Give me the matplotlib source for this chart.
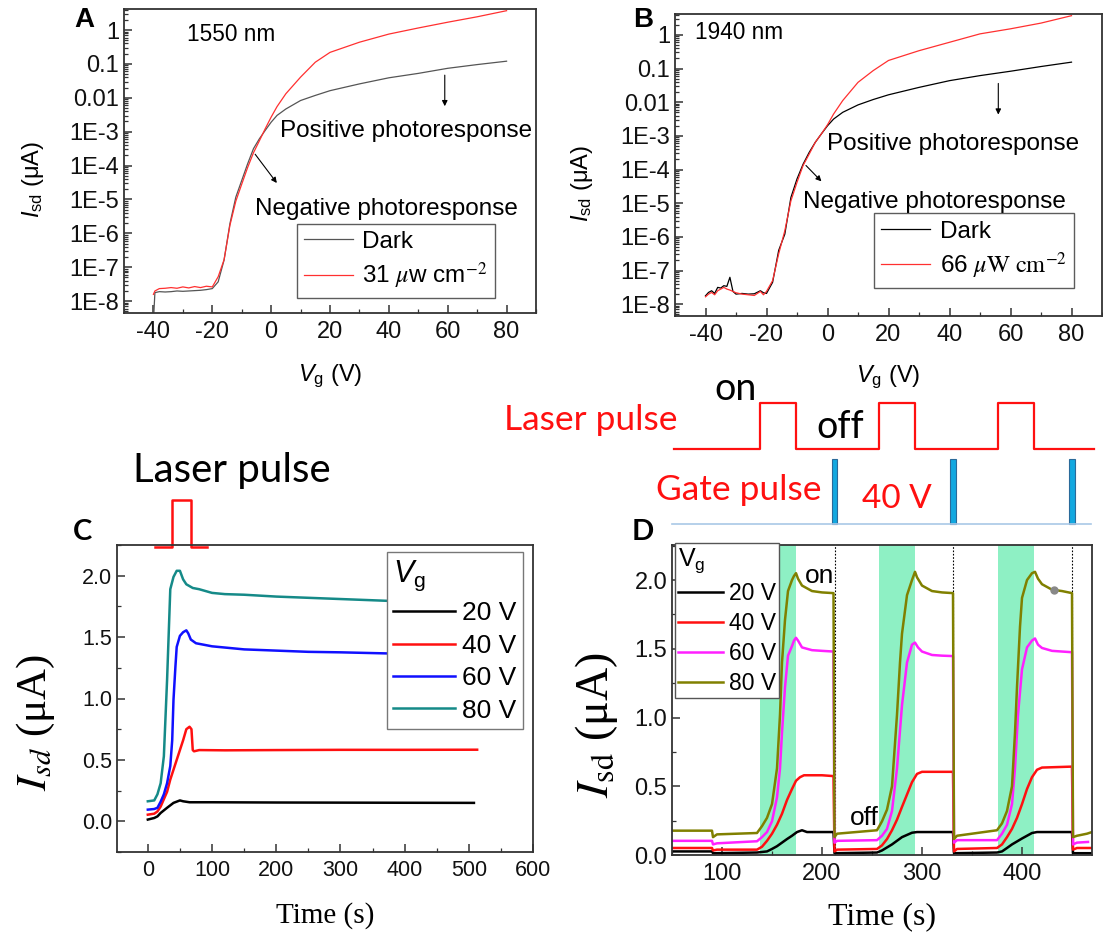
import numpy as np
import matplotlib
matplotlib.use('Agg')
import matplotlib.pyplot as plt
from matplotlib.ticker import FixedLocator, MultipleLocator, LogLocator, NullFormatter, FormatStrFormatter

plt.rcParams['font.family'] = ['Liberation Sans', 'DejaVu Sans']
plt.rcParams['axes.unicode_minus'] = False
plt.rcParams['mathtext.fontset'] = 'custom'
plt.rcParams['mathtext.rm'] = 'Liberation Sans'
plt.rcParams['mathtext.it'] = 'Liberation Sans:italic'
plt.rcParams['mathtext.bf'] = 'Liberation Sans:bold'

# ---- panel A : transfer curves at 1550 nm (log10 of Isd in uA)
a_vg = [-40, -39.5, -38, -36, -34, -32, -30, -28, -26, -24, -22, -20, -18, -16, -14, -12, -10,
        -8, -6, -4, -2, 0, 2, 5, 10, 15, 20, 30, 40, 50, 60, 70, 80]
a_dark = [-8.6, -7.75, -7.72, -7.73, -7.72, -7.70, -7.71, -7.70, -7.69, -7.68, -7.66, -7.63, -7.43,
          -6.79, -5.71, -4.93, -4.44, -3.95, -3.50, -3.21, -2.96, -2.72, -2.52, -2.33, -2.08, -1.93,
          -1.79, -1.59, -1.41, -1.28, -1.13, -1.02, -0.92]
a_light = [-7.80, -7.70, -7.63, -7.62, -7.60, -7.62, -7.58, -7.61, -7.57, -7.60, -7.56, -7.58, -7.28,
           -6.78, -5.76, -5.05, -4.55, -4.06, -3.62, -3.27, -2.91, -2.57, -2.26, -1.88, -1.39, -0.95,
           -0.66, -0.36, -0.12, 0.06, 0.23, 0.39, 0.57]

# ---- panel B : transfer curves at 1940 nm
b_vg = [-40, -39, -38, -37, -36, -35, -34, -33, -32, -31, -30, -28, -26, -24, -22, -21, -20, -18,
        -16, -14, -12, -10, -8, -6, -4, -2, 0, 2, 5, 10, 15, 20, 30, 40, 50, 60, 70, 80]
b_dark = [-7.75, -7.65, -7.60, -7.68, -7.50, -7.52, -7.45, -7.47, -7.20, -7.62, -7.70, -7.68, -7.70,
          -7.69, -7.60, -7.66, -7.68, -7.35, -6.40, -5.92, -4.83, -4.28, -3.84, -3.49, -3.19, -2.94,
          -2.70, -2.50, -2.30, -2.08, -1.92, -1.78, -1.56, -1.36, -1.21, -1.08, -0.94, -0.81]
b_light = [-7.78, -7.70, -7.65, -7.72, -7.60, -7.55, -7.50, -7.55, -7.58, -7.62, -7.66, -7.70, -7.72,
           -7.74, -7.62, -7.72, -7.62, -7.30, -6.50, -5.82, -4.93, -4.38, -3.88, -3.54, -3.19, -2.94,
           -2.67, -2.35, -1.95, -1.41, -1.06, -0.76, -0.47, -0.22, 0.03, 0.18, 0.35, 0.57]

log_ticks = [-8, -7, -6, -5, -4, -3, -2, -1, 0]
log_labels = ['1E-8', '1E-7', '1E-6', '1E-5', '1E-4', '1E-3', '0.01', '0.1', '1']

# ---- panel C : single laser pulse, different Vg
c_t80 = [0, 10, 15, 20, 25, 30, 35, 40, 45, 50, 55, 60, 70, 80, 100, 120, 150, 200, 250, 300, 350, 400, 450, 505]
c_i80 = [0.163, 0.17, 0.22, 0.31, 0.53, 1.15, 1.89, 1.99, 2.04, 2.04, 1.97, 1.93, 1.90, 1.89, 1.86, 1.85,
         1.845, 1.83, 1.82, 1.81, 1.80, 1.79, 1.785, 1.78]
c_t60 = [0, 10, 15, 20, 25, 30, 35, 38, 40, 43, 45, 50, 55, 60, 63, 67, 75, 100, 150, 200, 250, 300, 390, 450, 505]
c_i60 = [0.095, 0.10, 0.11, 0.16, 0.22, 0.31, 0.45, 0.66, 0.99, 1.26, 1.42, 1.51, 1.54, 1.555, 1.53, 1.48,
         1.45, 1.425, 1.40, 1.39, 1.38, 1.376, 1.365, 1.36, 1.355]
c_t40 = [0, 10, 15, 20, 25, 30, 35, 40, 45, 50, 55, 60, 65, 68, 70, 72, 80, 120, 200, 300, 400, 513]
c_i40 = [0.054, 0.062, 0.08, 0.12, 0.18, 0.24, 0.34, 0.42, 0.50, 0.58, 0.66, 0.75, 0.77, 0.75, 0.58, 0.57,
         0.58, 0.578, 0.58, 0.582, 0.582, 0.583]
c_t20 = [0, 10, 15, 20, 30, 40, 50, 55, 65, 100, 200, 300, 400, 508]
c_i20 = [0.014, 0.027, 0.04, 0.068, 0.11, 0.15, 0.17, 0.163, 0.155, 0.155, 0.153, 0.152, 0.151, 0.15]
c_pulse_t = [11, 37, 37, 67, 67, 92]
c_pulse_lvl = [0, 0, 1, 1, 0, 0]

# ---- panel D : repeated laser + gate pulses
d_t80 = [50, 90, 91, 95, 135, 140, 145, 150, 155, 158, 160, 163, 166, 170, 172, 174, 176, 180, 190, 200,
         211.5, 212.5, 215, 255, 260, 265, 270, 275, 278, 280, 285, 290, 293, 295, 300, 310, 320, 331,
         332, 335, 375, 380, 385, 390, 393, 395, 398, 400, 405, 410, 413, 416, 420, 430, 440, 450,
         451, 455, 465, 470]
d_i80 = [0.177, 0.177, 0.13, 0.15, 0.16, 0.21, 0.27, 0.37, 0.63, 1.02, 1.40, 1.71, 1.92, 2.00, 2.03, 2.05,
         2.01, 1.96, 1.92, 1.91, 1.905, 0.13, 0.155, 0.18, 0.245, 0.33, 0.50, 1.02, 1.40, 1.61, 1.89,
         2.00, 2.06, 2.02, 1.96, 1.92, 1.91, 1.905, 0.116, 0.14, 0.18, 0.23, 0.32, 0.50, 0.89, 1.22,
         1.66, 1.87, 2.00, 2.05, 2.06, 2.01, 1.97, 1.93, 1.92, 1.905, 0.13, 0.14, 0.155, 0.167]
d_t60 = [50, 90, 91, 95, 135, 140, 145, 150, 155, 158, 160, 163, 166, 170, 172, 174, 176, 180, 190, 200,
         211.5, 212.5, 215, 255, 260, 265, 270, 275, 280, 285, 290, 293, 296, 300, 310, 320, 331,
         332, 335, 375, 380, 385, 390, 393, 396, 400, 405, 410, 413, 416, 420, 430, 440, 450,
         451, 455, 466]
d_i60 = [0.103, 0.103, 0.077, 0.085, 0.10, 0.13, 0.167, 0.245, 0.42, 0.63, 0.89, 1.22, 1.45, 1.52, 1.56,
         1.58, 1.56, 1.51, 1.49, 1.485, 1.48, 0.09, 0.103, 0.108, 0.14, 0.19, 0.32, 0.63, 1.09, 1.40,
         1.53, 1.545, 1.51, 1.48, 1.455, 1.45, 1.447, 0.09, 0.108, 0.108, 0.155, 0.22, 0.37, 0.63,
         1.02, 1.35, 1.51, 1.56, 1.575, 1.53, 1.506, 1.485, 1.48, 1.475, 0.077, 0.09, 0.095]
d_t40 = [50, 90, 91, 95, 135, 140, 145, 150, 155, 160, 165, 170, 174, 178, 182, 200, 211.5, 212.5, 215,
         255, 260, 265, 270, 275, 280, 285, 290, 295, 300, 331, 332, 335, 375, 380, 385, 390, 395,
         400, 405, 410, 415, 420, 450, 451, 455, 470]
d_i40 = [0.051, 0.051, 0.033, 0.039, 0.039, 0.06, 0.103, 0.155, 0.22, 0.30, 0.40, 0.48, 0.54, 0.566,
         0.58, 0.58, 0.574, 0.026, 0.039, 0.044, 0.07, 0.116, 0.18, 0.257, 0.35, 0.44, 0.53, 0.59,
         0.605, 0.605, 0.026, 0.044, 0.051, 0.077, 0.13, 0.19, 0.27, 0.37, 0.48, 0.566, 0.62, 0.636,
         0.643, 0.039, 0.051, 0.051]
d_t20 = [50, 90, 91, 135, 145, 150, 155, 160, 165, 170, 175, 180, 185, 211.5, 212.5, 255, 260, 270,
         280, 290, 295, 331, 332, 375, 380, 385, 390, 400, 410, 415, 450, 451, 470]
d_i20 = [0.026, 0.026, 0.013, 0.018, 0.026, 0.044, 0.064, 0.09, 0.116, 0.14, 0.167, 0.18, 0.167, 0.167,
         0.013, 0.018, 0.033, 0.077, 0.13, 0.162, 0.167, 0.167, 0.013, 0.018, 0.026, 0.051, 0.077,
         0.12, 0.16, 0.167, 0.167, 0.013, 0.013]
d_light_on = [(138, 174), (257, 293), (376, 412)]
d_gate_t = [212.7, 331.2, 450]
d_marker = (432, 1.925)

W, H = 1103, 933
fig = plt.figure(figsize=(W / 100, H / 100), dpi=100)


def box(x0, y0, x1, y1):
    return [x0 / W, 1 - y1 / H, (x1 - x0) / W, (y1 - y0) / H]


def ftext(x, y, s, **kw):
    fig.text(x / W, 1 - y / H, s, **kw)


def style(ax, size):
    for sp in ax.spines.values():
        sp.set_color('#333333')
        sp.set_linewidth(1.3)
    ax.tick_params(which='both', direction='in', top=False, right=False, labelsize=size,
                   colors='#333333', labelcolor='#111111')
    ax.tick_params(which='major', length=6, width=1.1)
    ax.tick_params(which='minor', length=3, width=0.9)


def transfer(ax, vg, dark, light, lab, pos_txt, neg_txt, pos_arrow, neg_arrow, light_lbl, leg_anchor,
             dark_color, ylab_x, xlab_y):
    ax.plot(vg, 10 ** np.array(dark), color=dark_color, lw=0.9, label='Dark')
    ax.plot(vg, 10 ** np.array(light), color='#ff3030', lw=0.9, label=light_lbl)
    ax.set_yscale('log')
    ax.set_xlim(-50, 90)
    ax.set_ylim(10 ** -8.35, 10 ** 0.62)
    ax.yaxis.set_major_locator(FixedLocator([10.0 ** k for k in log_ticks]))
    ax.set_yticklabels(log_labels)
    ax.yaxis.set_minor_locator(LogLocator(base=10, subs=np.arange(2, 10), numticks=100))
    ax.yaxis.set_minor_formatter(NullFormatter())
    ax.xaxis.set_major_locator(MultipleLocator(20))
    ax.xaxis.set_minor_locator(MultipleLocator(10))
    style(ax, 17)
    ax.tick_params(axis='x', pad=6)
    ax.set_xlabel(r'$V_{\rm g}$ (V)', fontsize=17)
    ax.xaxis.set_label_coords(0.5, xlab_y)
    ax.set_ylabel(r'$I_{\rm sd}$ ($\rm\mu$A)', fontsize=17)
    ax.yaxis.set_label_coords(ylab_x, 0.44)
    ax.text(lab[0], 10 ** lab[1], lab[2], fontsize=16.3, va='center')
    ax.text(pos_txt[0], 10 ** pos_txt[1], 'Positive photoresponse', fontsize=17.5, va='center')
    ax.text(neg_txt[0], 10 ** neg_txt[1], 'Negative photoresponse', fontsize=17.5, va='center')
    ax.annotate('', xy=(pos_arrow[0], 10 ** pos_arrow[3]), xytext=(pos_arrow[0], 10 ** pos_arrow[1]),
                arrowprops=dict(arrowstyle='-|>', color='black', lw=0.8, mutation_scale=8))
    ax.annotate('', xy=(neg_arrow[2], 10 ** neg_arrow[3]), xytext=(neg_arrow[0], 10 ** neg_arrow[1]),
                arrowprops=dict(arrowstyle='-|>', color='black', lw=0.8, mutation_scale=8))
    leg = ax.legend(loc='lower right', bbox_to_anchor=leg_anchor, borderaxespad=0, fancybox=False,
                    edgecolor='#333333', prop=dict(size=17.5, math_fontfamily='stix'), handlelength=2.0,
                    handletextpad=0.4, borderpad=0.3, labelspacing=0.3)
    leg.get_frame().set_linewidth(1.0)


# ---------------- A
axA = fig.add_axes(box(124, 9, 536, 313))
transfer(axA, a_vg, a_dark, a_light, (-28.6, -0.12, '1550 nm'), (3, -2.98), (-5.5, -5.27),
         (59, -1.25, 59, -2.33), (-6, -3.6, 2.5, -4.58), r'31 $\mu$w cm$^{-2}$', (0.90, 0.049),
         '#555555', -0.19, -0.164)
ftext(74, 27, 'A', fontsize=20, fontweight='bold', va='baseline')

# ---------------- B
axB = fig.add_axes(box(675, 14, 1102, 316))
transfer(axB, b_vg, b_dark, b_light, (-43.5, 0.08, '1940 nm'), (-0.3, -3.24), (-7.9, -4.95),
         (56, -1.36, 56, -2.45), (-7.7, -3.82, -1.35, -4.41), r'66 $\mu\mathrm{W\ cm}^{-2}$', (0.934, 0.093),
         'black', -0.187, -0.156)
ftext(633, 27, 'B', fontsize=20, fontweight='bold', va='baseline')

# ---------------- C
axC = fig.add_axes(box(117, 545, 533, 852))
axC.plot(c_t20, c_i20, color='black', lw=1.8, label='20 V')
axC.plot(c_t40, c_i40, color='#ff1010', lw=1.8, label='40 V')
axC.plot(c_t60, c_i60, color='#1010ff', lw=1.8, label='60 V')
axC.plot(c_t80, c_i80, color='#158a88', lw=1.8, label='80 V')
axC.set_xlim(-48, 600)
axC.set_ylim(-0.25, 2.25)
axC.xaxis.set_major_locator(MultipleLocator(100))
axC.xaxis.set_minor_locator(MultipleLocator(50))
axC.yaxis.set_major_locator(MultipleLocator(0.5))
axC.yaxis.set_minor_locator(MultipleLocator(0.25))
axC.yaxis.set_major_formatter(FormatStrFormatter('%.1f'))
style(axC, 15.5)
axC.tick_params(axis='x', pad=6)
axC.set_xlabel('Time (s)', family='Liberation Serif', fontsize=21)
axC.xaxis.set_label_coords(0.5, -0.163)
axC.set_ylabel(r'$I_{sd}$ (μA)', family='Liberation Serif', fontsize=31, math_fontfamily='stix')
axC.yaxis.set_label_coords(-0.144, 0.42)
legC = axC.legend(loc='upper right', bbox_to_anchor=(0.976, 0.977), borderaxespad=0, fancybox=False,
                  edgecolor='#777777', fontsize=19, handlelength=2.35, borderpad=0.25, labelspacing=0.32,
                  handletextpad=0.25, title=r'$V_{\rm g}$', title_fontsize=22, alignment='left',
                  framealpha=1)
# laser pulse schematic above C
axC.plot(c_pulse_t, 2.235 + 0.385 * np.array(c_pulse_lvl), color='#ff1010', lw=1.8, clip_on=False)
ftext(133, 482, 'Laser pulse', fontsize=29, family='Lato', va='baseline')
ftext(73, 540, 'C', fontsize=21, family='Lato', fontweight='bold', va='baseline')

# ---------------- D
axD = fig.add_axes(box(672, 545, 1092, 855))
for a0, a1 in d_light_on:
    axD.axvspan(a0, a1, color='#8ef0c4', lw=0, zorder=0)
for g in d_gate_t:
    axD.axvline(g, color='black', lw=0.8, ls=(0, (1.5, 1.5)), zorder=1)
axD.plot(d_t20, d_i20, color='black', lw=1.8, label='20 V')
axD.plot(d_t40, d_i40, color='#ff1010', lw=1.8, label='40 V')
axD.plot(d_t60, d_i60, color='#ff20ff', lw=1.8, label='60 V')
axD.plot(d_t80, d_i80, color='#808000', lw=1.8, label='80 V')
axD.plot([d_marker[0]], [d_marker[1]], 'o', color='#888888', ms=5)
axD.set_xlim(50, 470)
axD.set_ylim(0, 2.255)
axD.xaxis.set_major_locator(MultipleLocator(100))
axD.xaxis.set_minor_locator(MultipleLocator(50))
axD.yaxis.set_major_locator(MultipleLocator(0.5))
axD.yaxis.set_minor_locator(MultipleLocator(0.25))
axD.yaxis.set_major_formatter(FormatStrFormatter('%.1f'))
style(axD, 17)
axD.tick_params(axis='x', pad=6)
axD.text(183, 2.03, 'on', fontsize=19, va='center')
axD.text(228, 0.27, 'off', fontsize=19, va='center')
axD.set_xlabel('Time (s)', family='Liberation Serif', fontsize=23)
axD.xaxis.set_label_coords(0.5, -0.152)
axD.set_ylabel(r'$I_{\rm sd}$ (μA)', family='Liberation Serif', fontsize=33, math_fontfamily='stix')
axD.yaxis.set_label_coords(-0.124, 0.42)
legD = axD.legend(loc='upper left', bbox_to_anchor=(0.007, 1.006), borderaxespad=0, fancybox=False,
                  edgecolor='#555555', fontsize=16.5, handlelength=1.95, borderpad=0.15, labelspacing=0.3,
                  handletextpad=0.25, title=r'V$_{\rm g}$', title_fontsize=18, alignment='left',
                  framealpha=1)
ftext(632, 540, 'D', fontsize=21, family='Lato', fontweight='bold', va='baseline')

# schematic above D, same time axis as D
axS = fig.add_axes(box(672, 375, 1092, 530))
axS.set_xlim(50, 470)
axS.set_ylim(-0.092, 2.29)
axS.axis('off')
laser_t = [52]
laser_lvl = [0]
for a0, a1 in d_light_on:
    laser_t += [a0, a0, a1, a1]
    laser_lvl += [0, 1, 1, 0]
laser_t.append(472)
laser_lvl.append(0)
axS.plot(laser_t, 1.154 + 0.706 * np.array(laser_lvl), color='#ff1010', lw=1.6, clip_on=False)
axS.plot([50, 469], [0, 0], color='#a9c8e6', lw=1.2, clip_on=False)
axS.bar(d_gate_t, 1.0, width=5.5, color='#12a8e0', edgecolor='#2a6a9a', lw=0.8, clip_on=False)
ftext(677, 430, 'Laser pulse', fontsize=25.5, family='Lato', color='#ff1010', ha='right', va='baseline')
ftext(736, 400, 'on', fontsize=27, family='Lato', ha='center', va='baseline')
ftext(840, 438, 'off', fontsize=27, family='Lato', ha='center', va='baseline')
ftext(822, 500, 'Gate pulse', fontsize=25.5, family='Lato', color='#ff1010', ha='right', va='baseline')
ftext(897, 508, '40 V', fontsize=24, family='Lato', color='#ff1010', ha='center', va='baseline')

fig.savefig('out.png', dpi=100)
